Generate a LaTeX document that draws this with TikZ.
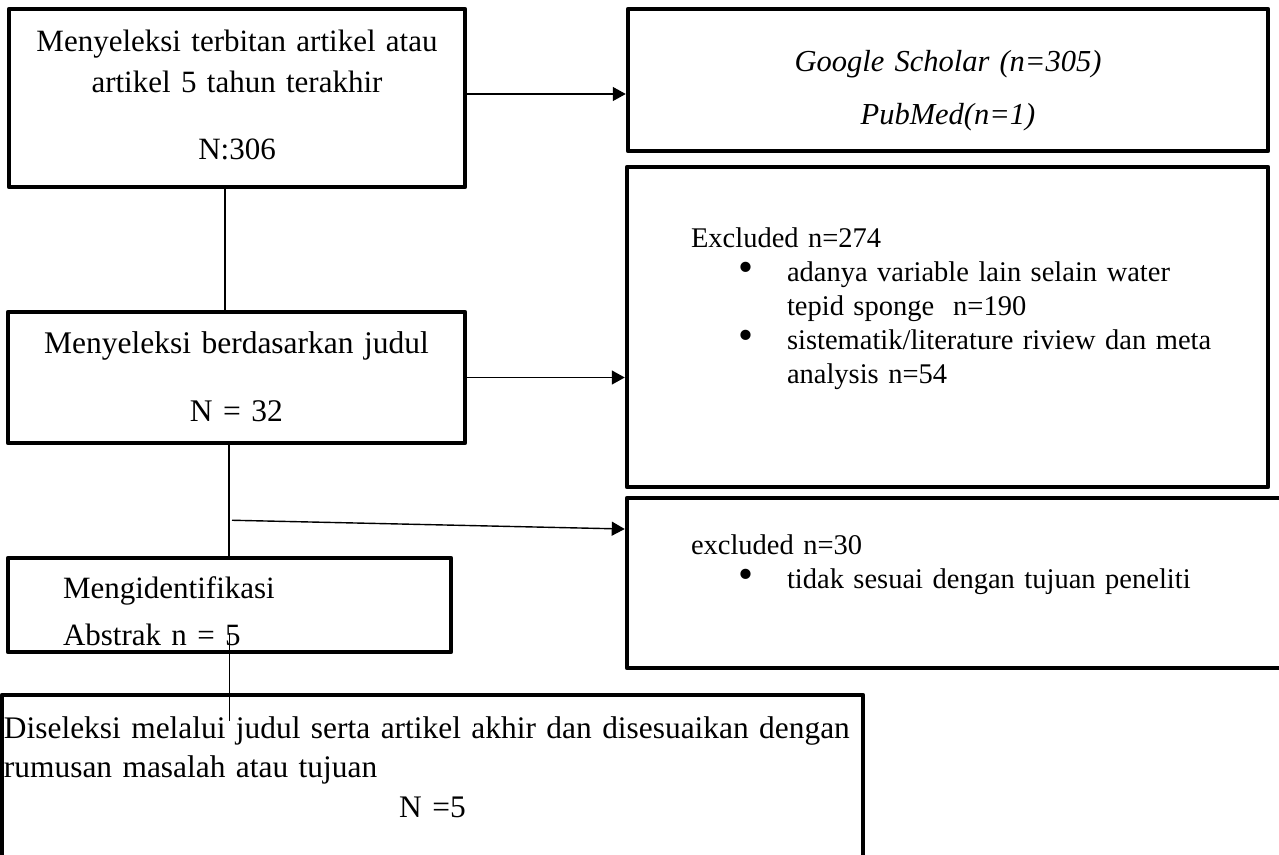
\documentclass[tikz,border=0pt]{standalone}
\usepackage{fontspec}
\setmainfont{Liberation Serif}
\usepackage{tikz}
\usetikzlibrary{arrows.meta, positioning}
\tikzset{
    boxnode/.style = {draw, rectangle, line width=4.5pt, line join=round, inner sep=0pt, 
      node distance=0em},
    centerbox/.style = {boxnode, align=center},
    leftbox/.style = {boxnode, align=left},
    connect/.style = {black, line width=1.4pt, -{Triangle[length=13pt, width=14pt]}},
    link/.style = {black, line width=1.4pt}
}
\newcommand{\bulitem}{\makebox[96pt][l]{\hspace*{47pt}\scalebox{1.5}{\textbullet}}}
\newcommand{\bulindent}{\hspace*{96pt}}

\begin{document}
\begin{tikzpicture}
    \fill [white] (0,0) rectangle (1279pt,-854pt);
    \useasboundingbox (0,0) rectangle (1279pt,-854pt);

    \node [name=seleksi, centerbox, minimum width=456pt, minimum height=178pt, 
        text height=42pt, text depth=136pt, text width=440pt, 
        font=\fontsize{31pt}{41pt}\selectfont] 
        at (237pt,-98pt) {Menyeleksi terbitan artikel atau\\artikel 5 tahun terakhir\\[26pt]N:306};
    \node [name=sumber, centerbox, right of = seleksi, xshift=711pt, yshift=18pt, 
        minimum width=640pt, minimum height=142pt, text height=62pt, text depth=80pt, 
        text width=600pt, font=\fontsize{30.5pt}{41pt}\selectfont\itshape] 
        {Google Scholar (n=305)\\[12pt]PubMed(n=1)};

    \node [name=judul, centerbox, below of = seleksi, xshift=-0.5pt, yshift=-279.5pt, 
        minimum width=457pt, minimum height=131pt, text height=41pt, text depth=90pt, 
        text width=440pt, font=\fontsize{31.5pt}{41pt}\selectfont] 
        {Menyeleksi berdasarkan judul\\[27pt]N = 32};
    \node [name=excl1, leftbox, right of = judul, xshift=711pt, yshift=50.5pt, 
        minimum width=641pt, minimum height=320pt, text height=80pt, text depth=240pt, 
        text width=513pt, font=\fontsize{28.5pt}{34pt}\selectfont] 
        {Excluded n=274\\
         \bulitem adanya variable lain selain water\\
         \bulindent tepid sponge\ \ n=190\\
         \bulitem \mbox{sistematik/literature riview dan meta}\\
         \bulindent analysis n=54};

    \node [name=abstrak, leftbox, below of = judul, xshift=-7pt, yshift=-227.5pt, 
        minimum width=443pt, minimum height=94pt, text height=40pt, text depth=54pt, 
        text width=333pt, font=\fontsize{31pt}{47pt}\selectfont] 
        {Mengidentifikasi\\Abstrak n = 5};
    \node [name=excl2, leftbox, right of = abstrak, xshift=729pt, yshift=22pt, 
        minimum width=663pt, minimum height=170pt, text height=56pt, text depth=114pt, 
        text width=535pt, font=\fontsize{28.5pt}{34pt}\selectfont] 
        {excluded n=30\\
         \bulitem tidak sesuai dengan tujuan peneliti};

    \node [name=akhir, leftbox, below of = abstrak, xshift=203pt, yshift=-192.5pt, 
        minimum width=861pt, minimum height=205pt, text height=43pt, text depth=162pt, 
        text width=857pt, font=\fontsize{31.4pt}{39.5pt}\selectfont] 
        {\mbox{Diseleksi melalui judul serta artikel akhir dan disesuaikan dengan}\\
         rumusan masalah atau tujuan\\
         \makebox[857pt][c]{N =5}};

    \draw [connect] ([yshift=4pt]seleksi.east) -- ([yshift=4pt]seleksi.east -| sumber.west);
    \draw [link] ([xshift=-12pt]seleksi.south) -- ([xshift=-12pt]seleksi.south |- judul.north);
    \draw [connect] (judul.east) -- (judul.east -| excl1.west);
    \draw [link] ([xshift=-7.5pt]judul.south) -- ([xshift=-7.5pt]judul.south |- abstrak.north);
    \coordinate (split) at ([xshift=-4.5pt, yshift=-75pt]judul.south);
    \draw [connect] (split) -- ([yshift=54pt]excl2.west);
    \draw [link] ([yshift=-28pt]abstrak.center) -- ([yshift=-28pt]abstrak.center |- akhir.north);
\end{tikzpicture}
\end{document}
